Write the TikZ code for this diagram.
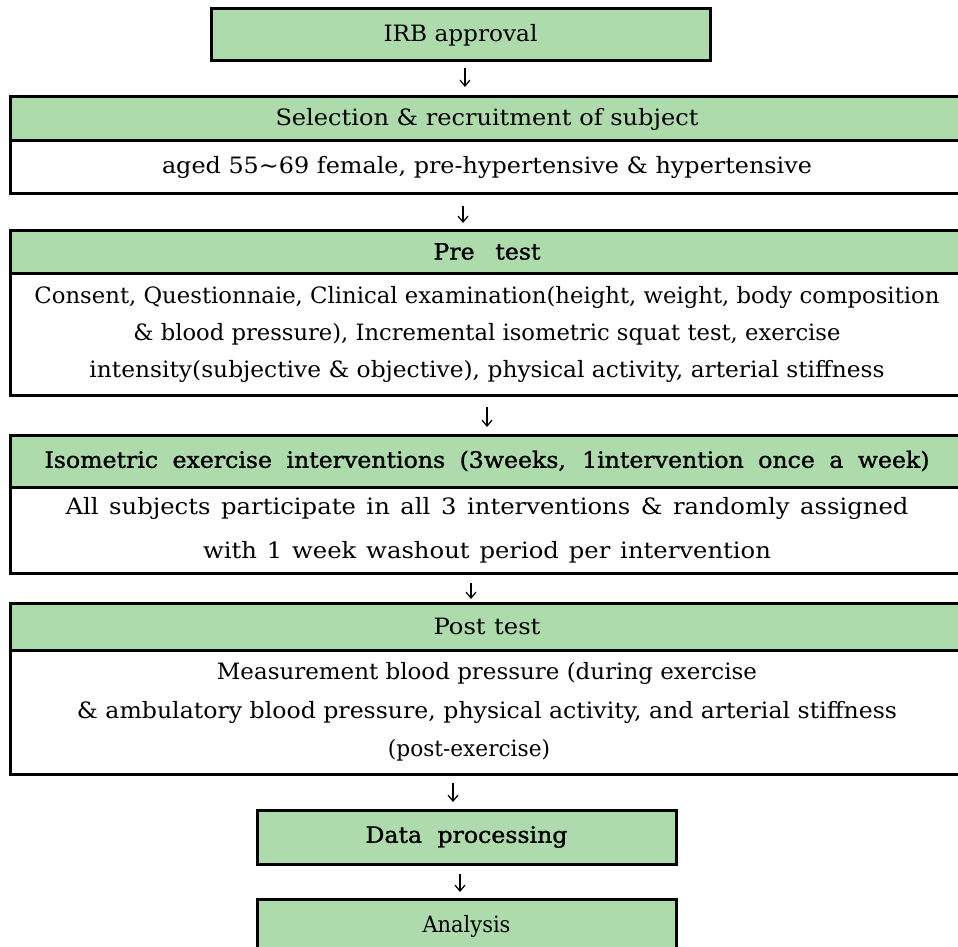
\documentclass[tikz,border=0pt]{standalone}
\usepackage{fontspec}
\usepackage{graphicx}
\setmainfont[FakeStretch=1.08]{DejaVu Serif}
\newfontfamily\hdfont[FakeBold=1.2,FakeStretch=1.05]{DejaVu Serif}
\usetikzlibrary{arrows.meta,calc}
\definecolor{boxgreen}{RGB}{173,219,172}
\newsavebox\slbox
\newcommand\sline[2]{\sbox\slbox{#2}\ifdim\wd\slbox>#1\relax\resizebox{#1}{\height}{\usebox\slbox}\else\makebox[#1][s]{#2}\fi}
\begin{document}
\begin{tikzpicture}[x=1pt,y=-1pt,
  box/.style={draw, line width=3pt, inner sep=0pt, outer sep=0pt, align=center,
    font=\fontsize{22.5}{37}\selectfont},
  hdr/.style={box, fill=boxgreen},
  bodybox/.style={box, fill=white},
  arr/.style={line width=1.2pt, -{Straight Barb[length=6pt,width=10pt]}}]
\useasboundingbox (0,0) rectangle (958,947);

\node[hdr, minimum width=499pt, minimum height=52pt] (irb) at (460.5,35)
  {\sline{154pt}{IRB approval}};

\node[hdr, minimum width=954pt, minimum height=44pt] (selh) at (487,119)
  {\sline{423pt}{Selection \& recruitment of subject}};
\node[bodybox, minimum width=954pt, minimum height=52pt] (selb) at (487,167)
  {\sline{650pt}{aged 55\textasciitilde69 female, pre-hypertensive \& hypertensive}};

\node[hdr, minimum width=954pt, minimum height=43pt] (preh) at (487,251.5)
  {\hdfont\sline{107pt}{Pre test}};
\node[bodybox, minimum width=954pt, minimum height=122pt] (preb) at (487,334)
  {\sline{905pt}{Consent, Questionnaie, Clinical examination(height, weight, body composition}\\
   \sline{707pt}{\& blood pressure), Incremental isometric squat test, exercise}\\
   \sline{795pt}{intensity(subjective \& objective), physical activity, arterial stiffness}};

\node[hdr, minimum width=954pt, minimum height=52pt] (isoh) at (487,461)
  {\hdfont\sline{885pt}{Isometric exercise interventions (3weeks, 1intervention once a week)}};
\node[bodybox, minimum width=954pt, minimum height=86pt, font=\fontsize{22.5}{44}\selectfont] (isob) at (487,530)
  {\sline{843pt}{All subjects participate in all 3 interventions \& randomly assigned}\\
   \sline{568pt}{with 1 week washout period per intervention}};

\node[hdr, minimum width=954pt, minimum height=47pt] (posth) at (487,626.5)
  {\sline{107pt}{Post test}};
\node[bodybox, minimum width=954pt, minimum height=124pt, font=\fontsize{22.5}{38.5}\selectfont] (postb) at (487,712)
  {\sline{540pt}{Measurement blood pressure (during exercise}\\
   \sline{820pt}{\& ambulatory blood pressure, physical activity, and arterial stiffness}\\
   \sline{162pt}{(post-exercise)}\hspace*{36pt}};

\node[hdr, minimum width=419pt, minimum height=54pt] (data) at (466.5,837)
  {\hdfont\sline{202pt}{Data processing}};
\node[hdr, minimum width=419pt, minimum height=54pt] (ana) at (466.5,926)
  {\sline{88pt}{Analysis}};

\draw[arr, shorten <=7pt, shorten >=10pt] ([xshift=4.5pt]irb.south) -- ([xshift=4.5pt]irb.south |- selh.north);
\draw[arr, shorten <=13pt, shorten >=7pt] ([xshift=-24pt]selb.south) -- ([xshift=-24pt]selb.south |- preh.north);
\draw[arr, shorten <=12pt, shorten >=8pt] (preb.south) -- (preb.south |- isoh.north);
\draw[arr, shorten <=10pt, shorten >=4pt] ([xshift=-16pt]isob.south) -- ([xshift=-16pt]isob.south |- posth.north);
\draw[arr, shorten <=9pt, shorten >=8pt] ([xshift=-34pt]postb.south) -- ([xshift=-34pt]postb.south |- data.north);
\draw[arr, shorten <=10pt, shorten >=7pt] ([xshift=-6.5pt]data.south) -- ([xshift=-6.5pt]data.south |- ana.north);
\end{tikzpicture}
\end{document}
